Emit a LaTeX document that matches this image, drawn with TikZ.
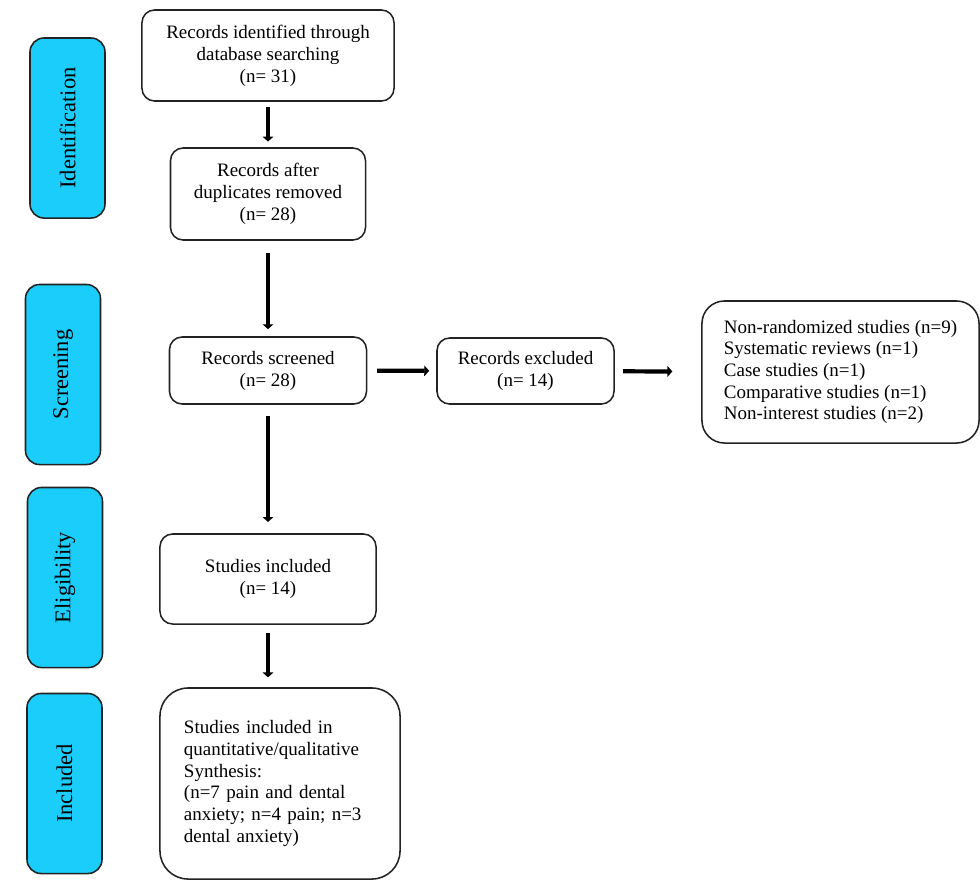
\documentclass[tikz,border=0pt]{standalone}
\usepackage{fontspec}
\setmainfont{Liberation Serif}
\usepackage{tikz}
\usetikzlibrary{arrows.meta, positioning, calc}
\definecolor{phasecyan}{RGB}{26,205,250}
\definecolor{edgegray}{RGB}{35,35,35}
\tikzset{
  phase/.style={rectangle, rounded corners=10pt, rotate=90, minimum width=4.5cm, minimum height=1.875cm,
                text centered, draw=edgegray, line width=1.1pt, fill=phasecyan, font=\fontsize{16}{19}\selectfont},
  stage/.style={rectangle, rounded corners=9pt, text centered, align=center, draw=edgegray, line width=1.1pt,
                fill=white, inner sep=0pt, font=\fontsize{13.5}{15.6}\selectfont},
  notes/.style={rectangle, rounded corners=16pt, align=left, draw=edgegray, line width=1.1pt,
                fill=white, inner sep=0pt, font=\fontsize{13.5}{15.4}\selectfont},
  arrow/.style={line width=3pt, -{Triangle[length=3.5pt, width=7.5pt]}, shorten <=6pt, shorten >=5pt}
}
\begin{document}
\begin{tikzpicture}[x=0.025cm, y=-0.025cm]
    \useasboundingbox (0,0) rectangle (980,884);

    % phases on the left
    \node (identification) [phase] at (67.5,128) {Identification};
    \node (screening) [phase] at (63,374.5) {Screening};
    \node (eligibility) [phase] at (65,577.5) {Eligibility};
    \node (included) [phase] at (64.5,783.5) {Included};

    % flow
    \node (identified) [stage, minimum width=6.3cm, minimum height=2.275cm] at (268,55.5) {Records identified through\\database searching\\(n= 31)};
    \node (noDuplicates) [stage, minimum width=4.875cm, minimum height=2.3cm] at (268,194) {Records after\\duplicates removed\\(n= 28)};
    \node (screened) [stage, minimum width=4.925cm, minimum height=1.675cm] at (268,370.5) {Records screened\\(n= 28)};
    \node (excluded) [stage, minimum width=4.425cm, minimum height=1.65cm] at (525.5,371) {Records excluded\\(n= 14)};
    \node (reasons) [notes, minimum width=6.925cm, minimum height=3.55cm] at (840.5,372)
        {Non-randomized studies (n=9)\\Systematic reviews (n=1)\\Case studies (n=1)\\Comparative studies (n=1)\\Non-interest studies (n=2)};
    \node (studies) [stage, minimum width=5.4cm, minimum height=2.25cm] at (268,579) {Studies included\\(n= 14)};
    \node (synthesis) [notes, rounded corners=20pt, text width=4.8cm, minimum width=6cm, minimum height=4.775cm] at (280,783.5)
        {Studies included in\\quantitative/qualitative\\Synthesis:\\(n=7 pain and dental\\anxiety; n=4 pain; n=3\\dental anxiety)};

    \draw [arrow, shorten <=4pt, shorten >=4pt] (identified) -- (noDuplicates);
    \draw [arrow, shorten <=8.5pt] (noDuplicates) -- (screened);
    \draw [arrow, shorten <=7pt] (screened) -- (excluded);
    \draw [arrow, shorten >=20.5pt] (excluded) -- (reasons);
    \draw [arrow, shorten <=8pt, shorten >=8pt] (screened) -- (studies);
    \draw [arrow, shorten >=7pt] (studies.south) -- (synthesis.north -| studies.south);

\end{tikzpicture}
\end{document}
